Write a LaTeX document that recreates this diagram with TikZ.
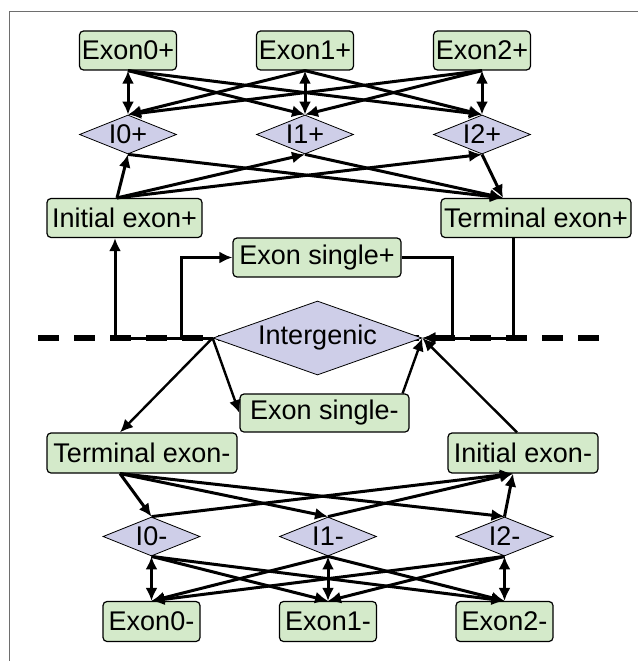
\documentclass[tikz,border=0pt]{standalone}
\usepackage{fontspec}
\setmainfont{Liberation Sans}
\usetikzlibrary{shapes.geometric,arrows.meta}
\definecolor{exongreen}{RGB}{212,234,202}
\definecolor{intronblue}{RGB}{206,206,232}
\definecolor{framegray}{RGB}{110,110,110}
\tikzset{
  >={Latex[length=13pt,width=12pt]},
  labelfont/.style={font=\fontsize{27}{32}\selectfont},
  exonbox/.style={draw, line width=1.2pt, rounded corners=4pt, fill=exongreen, minimum width=97pt, minimum height=39pt, inner sep=0pt, labelfont},
  intron/.style={diamond, draw, line width=0.8pt, fill=intronblue, shape aspect=2.5, minimum width=97pt, minimum height=39pt, inner sep=0pt, labelfont},
  conn/.style={line width=3pt, ->},
  biconn/.style={line width=3pt, <->},
  igconn/.style={line width=2.4pt, ->},
  dashline/.style={line width=6pt, dash pattern=on 21pt off 15pt},
}

\begin{document}
\begin{tikzpicture}[x=1pt,y=-1pt]
    \useasboundingbox (0,0) rectangle (638,661);
    % frame
    \coordinate (fbl) at (9,661);
    \coordinate (ftl) at (9,12);
    \coordinate (ftr) at (638,12);
    \draw[framegray, line width=1pt] (fbl) -- (ftl) -- (ftr);
    % strand line
    \coordinate (dashL) at (38,338);
    \coordinate (dashR) at (599,338);
    \draw[dashline] (dashL) -- (dashR);
    % plus strand
    \node[exonbox] (ep0) at (128,50.5) {Exon0+};
    \node[exonbox] (ep1) at (305,50.5) {Exon1+};
    \node[exonbox] (ep2) at (482,50.5) {Exon2+};
    \node[intron] (ip0) at (128,134.5) {I0+};
    \node[intron] (ip1) at (305,134.5) {I1+};
    \node[intron] (ip2) at (482,134.5) {I2+};
    \node[exonbox, minimum width=155pt] (iep) at (124.5,218) {Initial exon+};
    \node[exonbox, minimum width=190pt] (tep) at (536,218) {Terminal exon+};
    \node[exonbox, minimum width=168pt] (esp) at (317,257.5) {Exon single+};
    % intergenic
    \node[intron, shape aspect=2.8, minimum width=209pt, minimum height=74pt] (ig) at (317.5,338) {Intergenic};
    % minus strand
    \node[exonbox, minimum width=169pt, minimum height=38pt] (esm) at (324.5,413) {Exon single-};
    \node[exonbox, minimum width=190pt, minimum height=40pt] (tem) at (142,453) {Terminal exon-};
    \node[exonbox, minimum width=150pt, minimum height=40pt] (iem) at (523,453) {Initial exon-};
    \node[intron] (im0) at (151.5,536.5) {I0-};
    \node[intron] (im1) at (328,536.5) {I1-};
    \node[intron] (im2) at (504.5,536.5) {I2-};
    \node[exonbox, minimum height=40pt] (em0) at (151.5,621.5) {Exon0-};
    \node[exonbox, minimum height=40pt] (em1) at (328,621.5) {Exon1-};
    \node[exonbox, minimum height=40pt] (em2) at (504.5,621.5) {Exon2-};
    % exon+ to intron+
    \draw[biconn] (ep0.south) -- (ip0.north);
    \draw[conn] (ep0.south) -- (ip1.north);
    \draw[conn] (ep0.south) -- (ip2.north);
    \draw[conn] (ep1.south) -- (ip0.north);
    \draw[biconn] (ep1.south) -- (ip1.north);
    \draw[conn] (ep1.south) -- (ip2.north);
    \draw[conn] (ep2.south) -- (ip0.north);
    \draw[conn] (ep2.south) -- (ip1.north);
    \draw[biconn] (ep2.south) -- (ip2.north);
    % initial+ / terminal+
    \draw[conn] ([xshift=-7.5pt]iep.north) -- (ip0.south);
    \draw[conn] ([xshift=-7.5pt]iep.north) -- (ip1.south);
    \draw[conn] ([xshift=-7.5pt]iep.north) -- (ip2.south);
    \draw[conn] (ip0.south) -- ([xshift=-33pt]tep.north);
    \draw[conn] (ip1.south) -- ([xshift=-33pt]tep.north);
    \draw[conn] (ip2.south) -- ([xshift=-33pt]tep.north);
    % intergenic links
    \draw[conn] (ig.west) -| ([xshift=-9.5pt]iep.south);
    \draw[conn] (ig.west) -| ([xshift=-51pt]esp.west) -- (esp.west);
    \draw[conn] (esp.east) -- ([xshift=51pt]esp.east) |- (ig.east);
    \draw[conn] ([xshift=-23pt]tep.south) |- (ig.east);
    \draw[igconn] (ig.west) -- ([xshift=-22pt]tem.north);
    \draw[igconn] (ig.west) -- (esm.west);
    \draw[igconn] ([xshift=-7pt]esm.north east) -- (ig.east);
    \draw[igconn] ([xshift=-6pt]iem.north) -- (ig.east);
    % terminal- / initial-
    \draw[conn] ([xshift=-22pt]tem.south) -- (im0.north);
    \draw[conn] ([xshift=-22pt]tem.south) -- (im1.north);
    \draw[conn] ([xshift=-22pt]tem.south) -- (im2.north);
    \draw[conn] (im0.north) -- ([xshift=-10pt]iem.south);
    \draw[conn] (im1.north) -- ([xshift=-10pt]iem.south);
    \draw[conn] (im2.north) -- ([xshift=-10pt]iem.south);
    % intron- to exon-
    \draw[biconn] (im0.south) -- (em0.north);
    \draw[conn] (im0.south) -- (em1.north);
    \draw[conn] (im0.south) -- (em2.north);
    \draw[conn] (im1.south) -- (em0.north);
    \draw[biconn] (im1.south) -- (em1.north);
    \draw[conn] (im1.south) -- (em2.north);
    \draw[conn] (im2.south) -- (em0.north);
    \draw[conn] (im2.south) -- (em1.north);
    \draw[biconn] (im2.south) -- (em2.north);
\end{tikzpicture}
\end{document}
